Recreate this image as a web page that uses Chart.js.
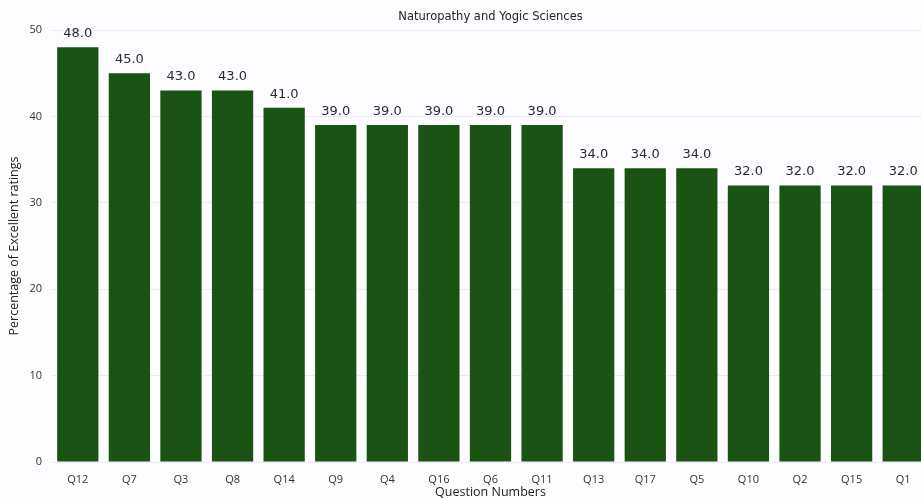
<!DOCTYPE html>
<html>
<head>
<meta charset="utf-8">
<script src="https://cdn.jsdelivr.net/npm/chart.js@4"></script>
<style>
html,body{margin:0;padding:0;background:#fdfdff;overflow:hidden;width:921px;height:500px;}
#wrap{position:absolute;left:0;top:0;width:940px;height:500px;}
</style>
</head>
<body>
<div id="wrap"><canvas id="c" width="940" height="500"></canvas></div>
<script>
const categories = ["Q12","Q7","Q3","Q8","Q14","Q9","Q4","Q16","Q6","Q11","Q13","Q17","Q5","Q10","Q2","Q15","Q1"];
const excellentPct = [48.0,45.0,43.0,43.0,41.0,39.0,39.0,39.0,39.0,39.0,34.0,34.0,34.0,32.0,32.0,32.0,32.0];
const yTicks = [0,10,20,30,40,50];
const chartTitle = "Naturopathy and Yogic Sciences";
const xTitle = "Question Numbers";
const yTitle = "Percentage of Excellent ratings";

const FONT = "'DejaVu Sans', sans-serif";
const FONT2 = "'Open Sans', sans-serif";

const valueLabels = {
  id: 'valueLabels',
  afterDatasetsDraw(chart) {
    const ctx = chart.ctx;
    const meta = chart.getDatasetMeta(0);
    ctx.save();
    ctx.font = "13px " + FONT;
    ctx.fillStyle = "#2a2a35";
    ctx.textAlign = "center";
    ctx.textBaseline = "middle";
    meta.data.forEach((bar, i) => {
      ctx.fillText(excellentPct[i].toFixed(1), bar.x, bar.y - 13.5);
    });
    // chart title centred over the plot area
    const a = chart.chartArea;
    ctx.font = "11.5px " + FONT;
    ctx.fillStyle = "#222";
    ctx.fillText(chartTitle, (a.left + a.right) / 2, 17);
    ctx.restore();
  }
};

new Chart(document.getElementById('c'), {
  type: 'bar',
  data: {
    labels: categories,
    datasets: [{
      data: excellentPct,
      backgroundColor: '#1a5313',
      borderWidth: 0,
      barPercentage: 0.8,
      categoryPercentage: 1.0
    }]
  },
  options: {
    responsive: false,
    animation: false,
    devicePixelRatio: 1,
    layout: { padding: { left: 0, right: 11, top: 30, bottom: 0 } },
    plugins: {
      legend: { display: false },
      tooltip: { enabled: false },
      title: { display: false }
    },
    scales: {
      x: {
        grid: { display: false },
        border: { display: false },
        ticks: { color: '#333', font: { family: FONT2, size: 11 }, padding: 3, maxRotation: 0 },
        title: { display: true, text: xTitle, color: '#222', font: { family: FONT2, size: 12.5 }, padding: { top: 0, bottom: 0 } },
        afterFit(s) { s.height = 38; }
      },
      y: {
        min: 0, max: 50,
        afterBuildTicks(s) { s.ticks = yTicks.map(v => ({ value: v })); },
        grid: { color: 'rgba(215,218,235,0.5)', drawTicks: false },
        border: { display: false },
        ticks: { color: '#333', font: { family: FONT2, size: 11 }, padding: 10 },
        title: { display: true, text: yTitle, color: '#222', font: { family: FONT2, size: 12.5 }, padding: { top: 7, bottom: 0 } },
        afterFit(s) { s.width = 52; }
      }
    }
  },
  plugins: [valueLabels]
});
</script>
</body>
</html>
